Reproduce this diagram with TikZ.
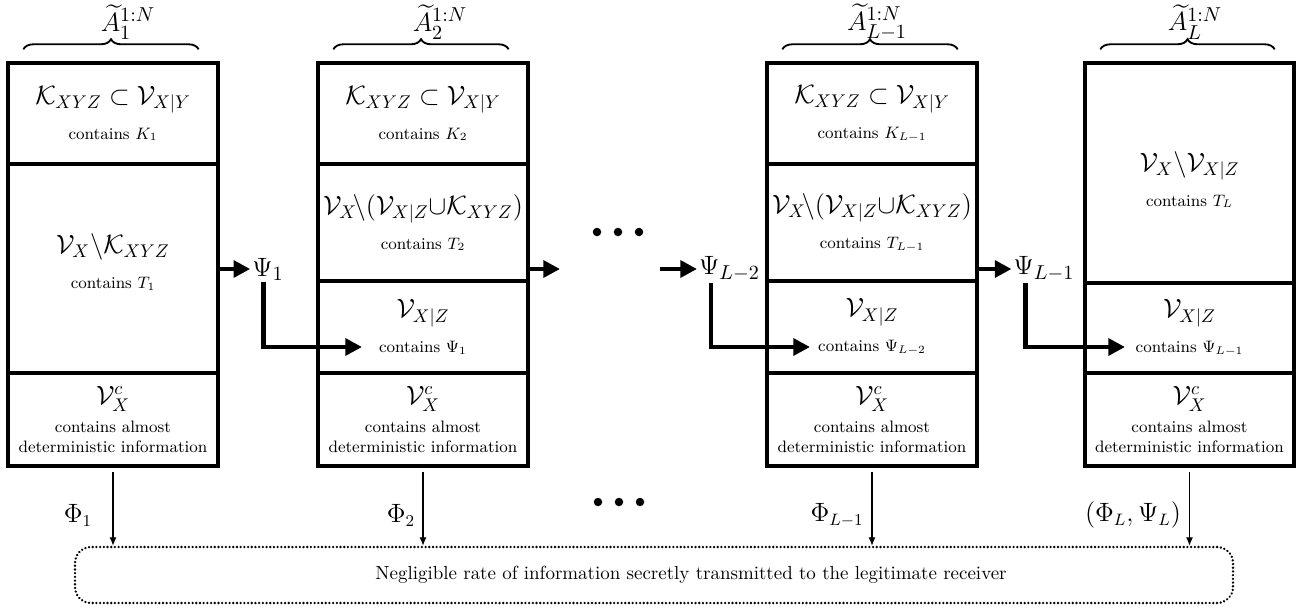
\documentclass[tikz,border=0pt]{standalone}
\usepackage{amsmath,amssymb}
\usetikzlibrary{arrows.meta,decorations.pathreplacing,calc}
\def\u{0.5435pt}
\newcommand\ctext[2]{{\fontsize{14.8}{17}\selectfont$#1$}\\[7pt]{\small #2}}
\newcommand\dtext{{\fontsize{14.8}{17}\selectfont$\mathcal{V}_X^c$}\\[3pt]{\small contains almost}\\[-1pt]{\small deterministic information}}
\begin{document}
\begin{tikzpicture}[x=0.5435pt,y=-0.5435pt,
  cell/.style={draw, line width=1.8pt, minimum width=210*\u, inner sep=0pt, align=center},
  fat/.style={line width=2.6pt, -{Triangle[length=9pt,width=9pt]}},
  thinarr/.style={line width=0.6pt, -{Latex[length=4.5pt,width=3.8pt]}},
  psilab/.style={font=\fontsize{15.5}{18}\selectfont, inner sep=1pt},
  lab/.style={font=\fontsize{13.5}{16}\selectfont, inner sep=1pt},
  blab/.style={font=\fontsize{15.5}{18}\selectfont, inner sep=0pt},
  brc/.style={decorate, decoration={brace, amplitude=5.5pt}, line width=1pt},
  bigdot/.style={circle, fill, inner sep=0pt, minimum size=8.5*\u},
  recv/.style={draw, line width=1.4pt, line cap=round, dash pattern=on 0.01pt off 2pt, rounded corners=16*\u, minimum width=1158*\u, minimum height=56*\u},
  recvtext/.style={font=\fontsize{10.3}{12}\selectfont, inner sep=0pt}]
\useasboundingbox (0,0) rectangle (1297,610);

% Box 1
\node[cell, minimum height=101*\u] (A1a) at (113,113.5) {\ctext{\mathcal{K}_{XYZ}\subset\mathcal{V}_{X|Y}}{contains $K_1$}};
\node[cell, minimum height=209*\u] (A1b) at (113,268.5) {\ctext{\mathcal{V}_X\backslash\mathcal{K}_{XYZ}}{contains $T_1$}\\[-4pt]\mbox{}};
\node[cell, minimum height=93*\u] (A1c) at (113,419.5) {\dtext};

% Box 2
\node[cell, minimum height=101*\u] (A2a) at (423,113.5) {\ctext{\mathcal{K}_{XYZ}\subset\mathcal{V}_{X|Y}}{contains $K_2$}};
\node[cell, minimum height=117*\u] (A2b) at (423,222.5) {\ctext{\mathcal{V}_X\!\backslash(\mathcal{V}_{X|Z}{\cup}\mathcal{K}_{XYZ})}{contains $T_2$}};
\node[cell, minimum height=92*\u] (A2m) at (423,327) {\ctext{\mathcal{V}_{X|Z}}{contains $\Psi_1$}};
\node[cell, minimum height=93*\u] (A2c) at (423,419.5) {\dtext};

% Box 3
\node[cell, minimum height=101*\u] (A3a) at (872,113.5) {\ctext{\mathcal{K}_{XYZ}\subset\mathcal{V}_{X|Y}}{contains $K_{L-1}$}};
\node[cell, minimum height=117*\u] (A3b) at (872,222.5) {\ctext{\mathcal{V}_X\!\backslash(\mathcal{V}_{X|Z}{\cup}\mathcal{K}_{XYZ})}{contains $T_{L-1}$}};
\node[cell, minimum height=92*\u] (A3m) at (872,327) {\ctext{\mathcal{V}_{X|Z}}{contains $\Psi_{L-2}$}};
\node[cell, minimum height=93*\u] (A3c) at (872,419.5) {\dtext};

% Box 4
\node[cell, minimum width=209*\u, minimum height=220*\u] (A4a) at (1189.5,173) {\mbox{}\\[6pt]\ctext{\mathcal{V}_X\backslash\mathcal{V}_{X|Z}}{contains $T_L$}};
\node[cell, minimum width=209*\u, minimum height=90*\u] (A4m) at (1189.5,328) {\ctext{\mathcal{V}_{X|Z}}{contains $\Psi_{L-1}$}};
\node[cell, minimum width=209*\u, minimum height=93*\u] (A4c) at (1189.5,419.5) {\dtext};

% Braces and labels
\draw[brc] ([xshift=17*\u,yshift=12*\u]A1a.north west) -- ([xshift=-21*\u,yshift=12*\u]A1a.north east);
\draw[brc] ([xshift=17*\u,yshift=12*\u]A2a.north west) -- ([xshift=-21*\u,yshift=12*\u]A2a.north east);
\draw[brc] ([xshift=17*\u,yshift=12*\u]A3a.north west) -- ([xshift=-21*\u,yshift=12*\u]A3a.north east);
\draw[brc] ([xshift=17*\u,yshift=12*\u]A4a.north west) -- ([xshift=-21*\u,yshift=12*\u]A4a.north east);
\node[blab] (L1) at (128,22) {$\widetilde{A}_1^{1:N}$};
\node[blab] (L2) at (440,22) {$\widetilde{A}_2^{1:N}$};
\node[blab] (L3) at (877,22) {$\widetilde{A}_{L-1}^{1:N}$};
\node[blab] (L4) at (1195,22) {$\widetilde{A}_L^{1:N}$};

% Psi labels and arrows
\node[psilab] (P1) at (268,269) {$\Psi_1$};
\node[psilab] (P2) at (729.5,269) {$\Psi_{L-2}$};
\node[psilab] (P3) at (1044,269) {$\Psi_{L-1}$};
\coordinate (T1) at (362,347);
\coordinate (T2) at (810,347);
\coordinate (T3) at (1125,347);
\coordinate (E2) at (560,269);
\coordinate (S2) at (660,269);

\draw[fat] (A1b.east |- P1.west) -- (P1.west);
\draw[fat] ([xshift=13*\u]P1.south west) |- (T1);
\draw[fat] (A2b.east |- E2) -- (E2);
\draw[fat] (S2) -- (P2.west);
\draw[fat] ([xshift=14*\u]P2.south west) |- (T2);
\draw[fat] (A3b.east |- P3.west) -- (P3.west);
\draw[fat] ([xshift=14*\u]P3.south west) |- (T3);

% dots
\node[bigdot] (d1) at (597,232) {};
\node[bigdot] (d2) at (618,232) {};
\node[bigdot] (d3) at (639,232) {};
\node[bigdot] (d4) at (598,502) {};
\node[bigdot] (d5) at (619,502) {};
\node[bigdot] (d6) at (640,502) {};

% receiver
\node[recv] (R) at (654,575) {};
\node[recvtext] (RT) at (691,575) {Negligible rate of information secretly transmitted to the legitimate receiver};

\draw[thinarr] ([yshift=-4*\u]A1c.south) -- (A1c.south |- R.north);
\draw[thinarr] ([yshift=-4*\u]A2c.south) -- (A2c.south |- R.north);
\draw[thinarr] ([yshift=-4*\u]A3c.south) -- (A3c.south |- R.north);
\draw[thinarr] ([yshift=-4*\u]A4c.south) -- (A4c.south |- R.north);

\node[lab] (F1) at (78,515) {$\Phi_1$};
\node[lab] (F2) at (401,515) {$\Phi_2$};
\node[lab] (F3) at (837,515) {$\Phi_{L-1}$};
\node[lab] (F4) at (1133,515) {$(\Phi_L,\Psi_L)$};
\end{tikzpicture}
\end{document}
